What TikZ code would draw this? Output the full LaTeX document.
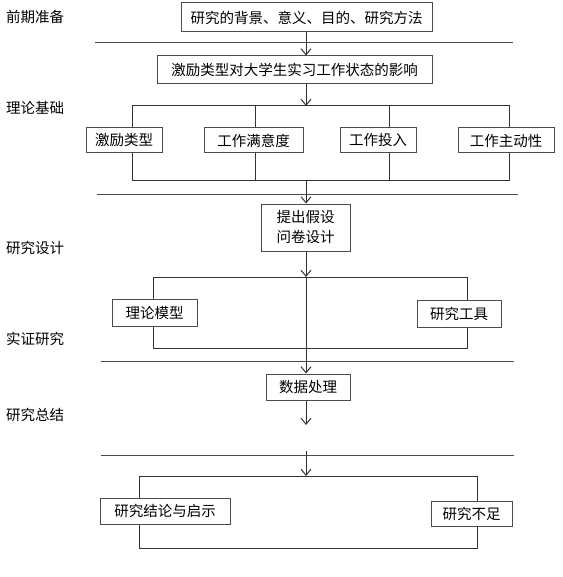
\documentclass[tikz,border=0pt]{standalone}
\usepackage{fontspec}
\newfontfamily\cjk{Noto Sans CJK SC}
\usetikzlibrary{arrows.meta}
\tikzset{
  x = 1pt,
  y = -1pt, % y runs downwards, as in the page
  box/.style = { % framed step box
    draw = black!70,
    fill = white, % hide bracket lines behind it
    line width = 1pt,
    inner sep = 0pt, % no 'padding' b/w text and edge
    minimum width = #1, % argument = width
    minimum height = 27pt,
    font = \cjk\fontsize{14.5pt}{20pt}\selectfont,
  },
  stage/.style = { % stage label on the left
    anchor = west,
    inner sep = 0pt,
    font = \cjk\fontsize{14.5pt}{20pt}\selectfont,
  },
  wire/.style = { % bracket lines
    draw = black!80,
    line width = 1pt,
  },
  flow/.style = { % downward arrow
    wire,
    -{Straight Barb[length=6pt,width=10pt]},
  },
  rule/.style = { % section separator
    draw = black!70,
    line width = 1pt,
  },
}

\begin{document}
\begin{tikzpicture}
    \useasboundingbox (0,0) rectangle (562,577); % keep the page size
    \foreach \y/\name/\txt in {17/pre/前期准备,108/theo/理论基础,248/design/研究设计,339/emp/实证研究,415/summ/研究总结}{ % stage labels
      \node[stage] (\name) at (6,\y) {\txt};
    } % end loop
    \foreach \y/\a/\b in {43/95/513,195/97/518,361/101/514,455/101/514}{ % separators
      \draw[rule] (\a,\y) -- (\b,\y);
    } % end loop
    % bracket corners on the centre line
    \coordinate (j1) at (306,106);
    \coordinate (j2) at (306,181);
    \coordinate (j3) at (306,277);
    \coordinate (j4) at (306,476);
    \coordinate (e5) at (306,425); % dummy end of open arrow
    \coordinate (s6) at (306,451); % dummy start of last arrow
    % brackets
    \draw[wire] (132,106) rectangle (509,181);
    \foreach \x in {255,389} \draw[wire] (\x,106) -- (\x,181); % inner legs
    \draw[wire] (153,277) rectangle (467,348);
    \draw[wire] (139,476) rectangle (477,548);
    % boxes
    \node[box=251pt,minimum height=29pt] (bg) at (306.5,17.5) {研究的背景、意义、目的、研究方法};
    \node[box=275pt,minimum height=28pt] (topic) at (294.5,70) {激励类型对大学生实习工作状态的影响};
    \foreach \x/\w/\name/\txt in {124/76/motive/激励类型,253.5/99/satis/工作满意度,378/76/engage/工作投入,506/96/proact/工作主动性}{ % theory boxes
      \node[box=\w pt,minimum height=25pt] (\name) at (\x,140.5) {\txt};
    } % end loop
    \node[box=89pt,minimum height=47pt,align=center] (hypo) at (305.5,227.5) {提出假设\\问卷设计};
    \node[box=85pt] (model) at (154.5,313) {理论模型};
    \node[box=84pt] (tool) at (459,313.5) {研究工具};
    \node[box=84pt,minimum height=26pt] (data) at (308,387) {数据处理};
    \node[box=130pt,minimum height=26pt] (concl) at (165,511) {研究结论与启示};
    \node[box=81pt,minimum height=25pt] (limit) at (471.5,513.5) {研究不足};
    % arrows
    \draw[flow] (bg.south -| j1) -- (topic.north -| j1);
    \draw[flow] (topic.south -| j1) -- (j1);
    \draw[flow] (j2) -- (hypo.north -| j2);
    \draw[flow] (hypo.south -| j3) -- (j3);
    \draw[flow] (j3) -- (data.north -| j3); % through the bracket
    \draw[flow] (data.south -| j3) -- (e5);
    \draw[flow] (s6) -- (j4);
  \end{tikzpicture}
\end{document}
